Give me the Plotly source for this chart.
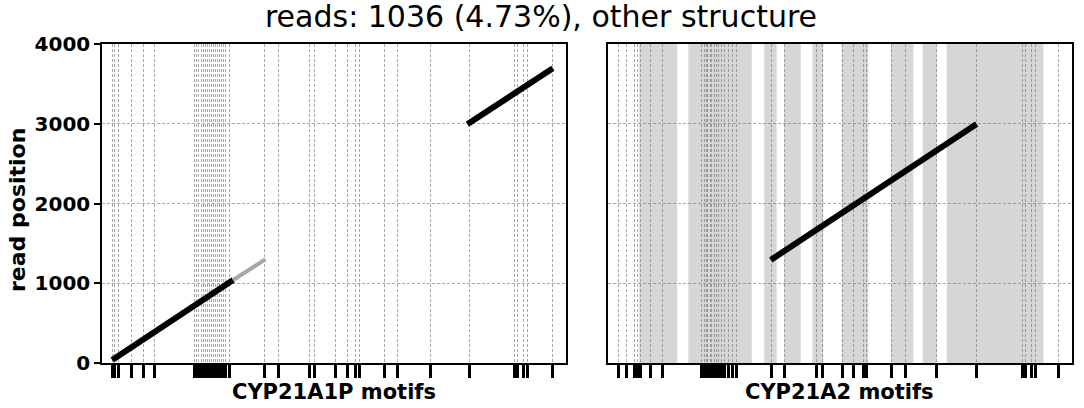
import plotly.graph_objects as go

# ---- data ----
title_text = "reads: 1036 (4.73%), other structure"
y_ticks = [0, 1000, 2000, 3000, 4000]
x_title_left = "CYP21A1P motifs"
x_title_right = "CYP21A2 motifs"
y_title = "read position"

# motif positions (bp) along each gene
motifs_1p = [85, 102, 135, 241, 343, 440,
             772, 788, 805, 830, 847, 863, 880, 896, 913, 930, 946, 963, 979, 996, 1013, 1029, 1062,
             1347, 1469, 1726, 1768, 1942, 2039, 2108, 2141, 2349, 2459, 2728, 3054,
             3428, 3451, 3503, 3533, 3746]
motifs_a2 = [95, 154, 228, 249, 270, 353, 455,
             784, 801, 818, 834, 851, 867, 884, 901, 920, 948, 975, 1003, 1036, 1072,
             1363, 1473, 1736, 1786, 1949, 2040, 2123, 2151, 2359, 2469, 2732, 3064,
             3446, 3471, 3521, 3548, 3747]

# shaded regions on CYP21A2 (start, end)
shade_start = [264, 671, 1301, 1467, 1700, 1944, 2353, 2616, 2815]
shade_end = [579, 1197, 1404, 1604, 1791, 2165, 2538, 2732, 3617]

# alignment segments: gene position -> read position
seg_1p_a_x = [85, 1089]
seg_1p_a_y = [38, 1041]
seg_1p_b_x = [1089, 1358]
seg_1p_b_y = [1041, 1300]
seg_1p_c_x = [3035, 3746]
seg_1p_c_y = [2993, 3696]
seg_a2_x = [1355, 3064]
seg_a2_y = [1292, 2997]

x_range = [0, 3855]

fig = go.Figure()

fig.add_trace(go.Scatter(x=seg_1p_a_x, y=seg_1p_a_y, mode="lines",
                         line=dict(color="black", width=6), xaxis="x", yaxis="y", showlegend=False))
fig.add_trace(go.Scatter(x=seg_1p_b_x, y=seg_1p_b_y, mode="lines",
                         line=dict(color="#a6a6a6", width=4), xaxis="x", yaxis="y", showlegend=False))
fig.add_trace(go.Scatter(x=seg_1p_c_x, y=seg_1p_c_y, mode="lines",
                         line=dict(color="black", width=6), xaxis="x", yaxis="y", showlegend=False))
fig.add_trace(go.Scatter(x=seg_a2_x, y=seg_a2_y, mode="lines",
                         line=dict(color="black", width=6), xaxis="x2", yaxis="y2", showlegend=False))

shapes = []
for s, e in zip(shade_start, shade_end):
    shapes.append(dict(type="rect", xref="x2", yref="y2 domain", x0=s, x1=e, y0=0, y1=1,
                       fillcolor="#d6d6d6", line=dict(width=0), layer="below"))

def bold(size):
    return dict(family="DejaVu Sans", size=size, color="black", weight="bold")

xaxis_common = dict(range=x_range, showticklabels=False, ticks="outside", ticklen=13, tickwidth=2.5,
                    tickcolor="black", showgrid=True, gridcolor="rgba(110,110,110,0.6)",
                    griddash="3px,2px", gridwidth=1, showline=True, linecolor="black", linewidth=1.5,
                    mirror=True, zeroline=False)
yaxis_common = dict(range=[0, 4000], tickvals=y_ticks, showgrid=True, gridcolor="rgba(110,110,110,0.6)",
                    griddash="3px,2px", gridwidth=1, showline=True, linecolor="black", linewidth=1.5,
                    mirror=True, zeroline=False)

# plot area in pixels
L, T, W, H = 102, 44, 970, 319

annotations = [
    dict(text=x_title_left, xref="paper", yref="paper", x=232 / W, y=-29 / H,
         xanchor="center", yanchor="middle", showarrow=False, font=bold(21)),
    dict(text=x_title_right, xref="paper", yref="paper", x=737.75 / W, y=-29 / H,
         xanchor="center", yanchor="middle", showarrow=False, font=bold(21)),
    dict(text=y_title, xref="paper", yref="paper", x=-85 / W, y=(H - 166) / H, textangle=-90,
         xanchor="center", yanchor="middle", showarrow=False, font=bold(22)),
]

fig.update_layout(
    width=1084, height=408,
    margin=dict(l=L, r=1084 - L - W, t=T, b=408 - T - H, autoexpand=False),
    paper_bgcolor="white", plot_bgcolor="white",
    title=dict(text=title_text, x=541 / 1084, xref="container", xanchor="center",
               y=1 - 16 / 408, yref="container", yanchor="middle",
               font=dict(family="DejaVu Sans", size=30, color="black")),
    xaxis=dict(domain=[0, 464 / W], tickvals=motifs_1p, **xaxis_common),
    xaxis2=dict(domain=[505.5 / W, 1], tickvals=motifs_a2, anchor="y2", **xaxis_common),
    yaxis=dict(ticks="outside", ticklen=6, tickwidth=1.5, tickcolor="black", tickfont=bold(20),
               **yaxis_common),
    yaxis2=dict(anchor="x2", matches="y", showticklabels=False, ticks="", **yaxis_common),
    shapes=shapes,
    annotations=annotations,
)

fig.write_html("out.html", config={"displayModeBar": False},
               post_script="document.body.style.margin='0';")
